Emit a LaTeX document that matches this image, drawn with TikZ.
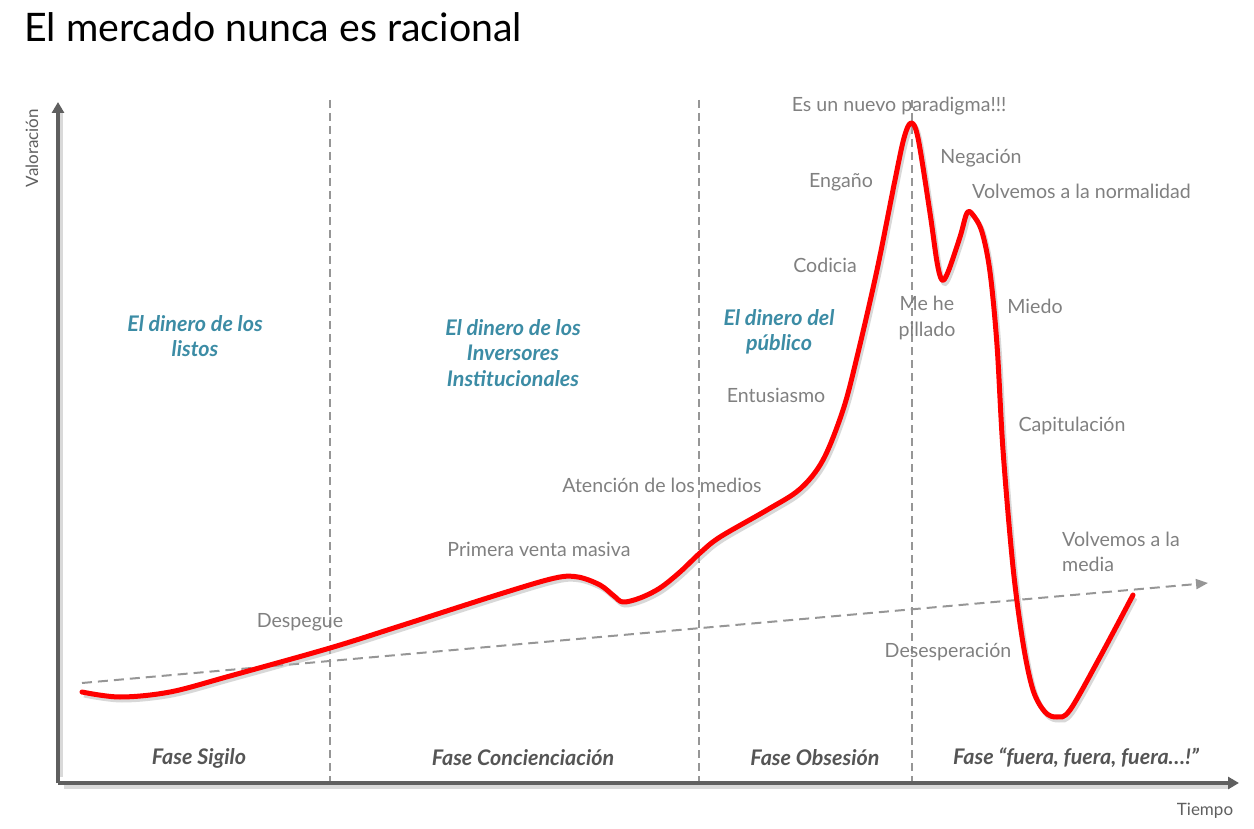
\documentclass[tikz,border=0pt]{standalone}
\usepackage{fontspec}
\setmainfont{Lato}
\usetikzlibrary{arrows.meta}
\definecolor{lbl}{RGB}{128,128,128}
\definecolor{axisc}{RGB}{95,95,95}
\definecolor{phasec}{RGB}{85,85,85}
\definecolor{bluec}{RGB}{60,140,165}
\definecolor{dashc}{RGB}{150,150,150}
\begin{document}
\begin{tikzpicture}[x=1pt,y=-1pt,
  lab/.style={text=lbl, font=\fontsize{19.6}{26}\selectfont, inner sep=0pt, align=center},
  labl/.style={lab, align=left, anchor=west},
  money/.style={text=bluec, font=\fontsize{21.5}{25.5}\selectfont\bfseries\itshape, inner sep=0pt, align=center},
  phase/.style={text=phasec, font=\fontsize{21.5}{24}\selectfont\bfseries\itshape, inner sep=0pt},
  axisline/.style={draw=axisc, line width=4pt, -{Triangle[length=11pt,width=12pt]}},
  shadowax/.style={draw=black!15, line width=4pt},
  sep/.style={draw=dashc, line width=1.6pt, dash pattern=on 8pt off 5pt},
  trend/.style={draw=dashc, line width=2pt, dash pattern=on 10pt off 6pt, -{Triangle[length=12pt,width=10pt]}},
  curve/.style={draw=red, line width=5pt, line cap=round, line join=round}]
\useasboundingbox (0,0) rectangle (1254,829);
% title
\node[anchor=base west, inner sep=0pt, font=\fontsize{39.3}{44}\selectfont] (title) at (24,42) {El mercado nunca es racional};
% phase separators
\coordinate (s1t) at (330,100); \coordinate (s1b) at (330,785);
\coordinate (s2t) at (699,100); \coordinate (s2b) at (699,785);
\coordinate (s3t) at (912,100); \coordinate (s3b) at (912,785);
\draw[sep] (s1t) -- (s1b);
\draw[sep] (s2t) -- (s2b);
\draw[sep] (s3t) -- (s3b);
% axes
\coordinate (o) at (58,783);
\coordinate (ytip) at (58,102);
\coordinate (xtip) at (1239,783);
\draw[shadowax] (61,777) -- (61,110);
\draw[shadowax] (64,787) -- (1230,787);
\draw[axisline] (o) -- (ytip);
\draw[axisline] (o) -- (xtip);
\node[rotate=90, text=axisc, font=\fontsize{17}{20}\selectfont, inner sep=0pt] (yl) at (32,148) {Valoración};
\node[text=axisc, font=\fontsize{17}{20}\selectfont, inner sep=0pt] (xl) at (1205,811) {Tiempo};
% trend line
\coordinate (t0) at (82,683);
\coordinate (t1) at (1208,583);
\draw[trend] (t0) -- (t1);
% curve
\draw[curve, preaction={draw=black!30, opacity=0.5, line width=5pt, transform canvas={shift={(2pt,-3pt)}}}]
  plot[smooth, tension=0.55] coordinates {
  (82,692) (120,697) (170,692) (230,676) (330,648) (400,626) (500,594) (555,578) (578,577)
  (600,585) (614,596) (623,602) (640,598) (660,588) (680,572) (700,553) (720,537) (767,510)
  (800,489) (823,460) (843,410) (857,357) (877,270) (895,180) (904,138) (911,123) (918,138)
  (930,213) (937,262) (942,280) (948,272) (960,237) (967,213) (973,215) (982,232) (990,272)
  (997,345) (1003,450) (1013,567) (1023,643) (1033,690) (1045,712) (1057,717) (1070,710)
  (1100,657) (1133,595)};
% labels
\node[lab] (l1) at (899,106) {Es un nuevo paradigma!!!};
\node[lab] (l2) at (841,182) {Engaño};
\node[lab] (l3) at (981,158) {Negación};
\node[labl] (l4) at (972,191) {Volvemos a la normalidad};
\node[lab] (l5) at (825,265) {Codicia};
\node[lab] (l6) at (927,318) {Me he\\pillado};
\node[lab] (l7) at (1035,306) {Miedo};
\node[lab] (l8) at (776,395) {Entusiasmo};
\node[lab] (l9) at (1072,426) {Capitulación};
\node[lab] (l10) at (662,485) {Atención de los medios};
\node[lab] (l11) at (539,549) {Primera venta masiva};
\node[labl] (l12) at (1062,552) {\parbox{160pt}{\raggedright\fontsize{19.6}{25}\selectfont Volvemos a la\\media}};
\node[lab] (l13) at (300,622) {Despegue};
\node[lab] (l14) at (948,652) {Desesperación};
% money labels
\node[money] (m1) at (195,336) {El dinero de los\\listos};
\node[money] (m2) at (513,353) {El dinero de los\\Inversores\\Institucionales};
\node[money] (m3) at (779,332) {El dinero del\\público};
% phases
\node[phase] (p1) at (199,758) {Fase Sigilo};
\node[phase] (p2) at (523,758) {Fase Concienciación};
\node[phase] (p3) at (815,758) {Fase Obsesión};
\node[phase] (p4) at (1076,758) {Fase “fuera, fuera, fuera…!”};
\end{tikzpicture}
\end{document}
